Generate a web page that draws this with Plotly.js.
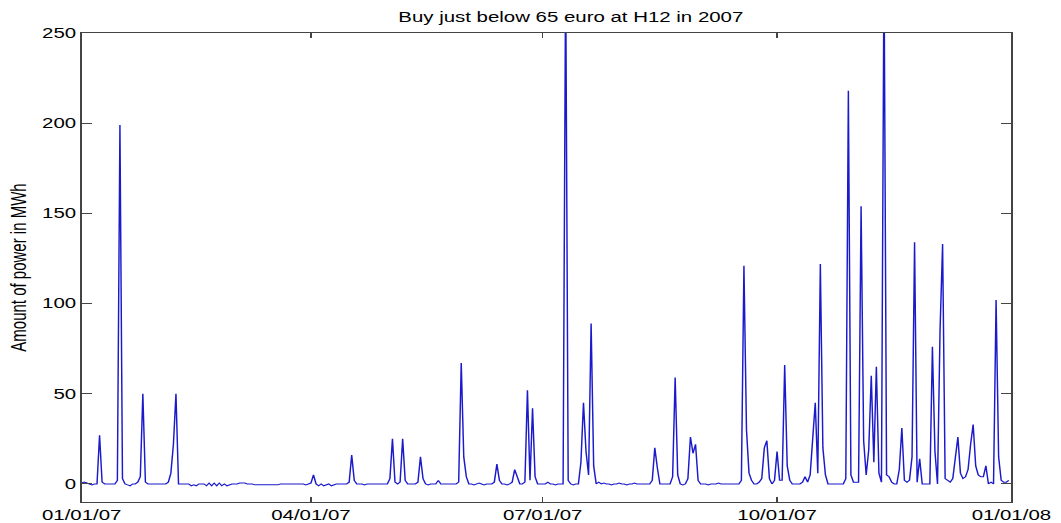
<!DOCTYPE html>
<html>
<head>
<meta charset="utf-8">
<script src="https://cdn.plot.ly/plotly-3.0.1.min.js"></script>
<style>
html,body{margin:0;padding:0;background:#fff;overflow:hidden;}
#wrap{width:1061px;height:523px;overflow:hidden;}
#chart{width:727px;height:523px;transform:scaleX(1.4594);transform-origin:0 0;}
</style>
</head>
<body>
<div id="wrap"><div id="chart"></div></div>
<script>
// Daily amount (MWh) bought just below 65 euro at hour 12, from 2007-01-01
const startDate = '2007-01-01';
const amounts = [
 0.5,1,0.5,0,-0.5,0,0,27,1,0, 0,0,0,0,2,199,3,0,-0.5,-1,
 0,0,1,4,50,1,0,0,0,0, 0,0,0,0,1,6,22,50,0,0,
 0,0,0,-1,-0.5,-1,0,0,0,-1, 0.5,-1,0.5,-1,0.5,-1,0,-1,-0.5,0,
 0,0,0.5,0.5,0.5,0,0,0,-0.5,-0.5, -0.5,-0.5,-0.5,-0.5,-0.5,-0.5,-0.5,-0.5,0,0,
 0,0,0,0,0,0,0,0,-0.5,0, 0.5,5,0,-1,0,-1,-0.5,0,-1,-0.5,
 0,0,0,0,0,1,16,2,0,0, 0,-0.5,0,0,0,0,0,0,0,0,
 0,3,25,1,0,1,25,2,0,0, 0,0,1,15,3,0,-0.5,0,0,0,
 2,0,0,0,0,0,0,0,1,67, 15,4,0,0,-0.5,0,0.5,0,-0.5,0,
 0,0,1,11,2,0,0,-0.5,0,1, 8,3,0,0,1,52,2,42,4,0,
 0,0,0,1,0,0,-0.5,0,0,0, 285,2,0,-0.5,0,0,12,45,18,5,
 89,10,0,1,0,0.5,0,0,-0.5,0, 0,0.5,0,0,-0.5,0,0,0.5,0,0,
 0,0,0,0,2,20,9,0,0,0, 0,0,4,59,5,0,-0.5,0,3,26,
 17,22,2,0,0,0,-0.5,0,0,0, 0.5,0,0,0,0,0,0,0,0,2,
 121,30,6,2,0,0,1,3,20,24, 3,0,2,18,2,2,66,10,2,0,
 0,0,0,1,4,1,5,25,45,6, 122,20,5,0,0,0,0,0,0,0,
 3,218,5,1,1,1,154,24,5,19, 60,12,65,6,1,290,5,4,1,0,
 0,8,31,2,1,2,15,134,1,14, 0,0,0,0,76,18,0,85,133,3,
 2,1,3,15,26,6,3,4,8,22, 33,10,5,4,4,10,0,1,0,102,
 15,2,1,1,2
];
const tickDates = ['2007-01-01','2007-04-01','2007-07-01','2007-10-01','2008-01-01'];
const tickLabels = ['01/01/07','04/01/07','07/01/07','10/01/07','01/01/08'];
const yTicks = [0,50,100,150,200,250];

const dates = amounts.map((_, i) => {
  const d = new Date(startDate + 'T00:00:00Z');
  d.setUTCDate(d.getUTCDate() + i);
  return d.toISOString().slice(0,10);
});

const font = {family:'Liberation Sans, Arial, Helvetica, sans-serif', size:14, color:'#000'};

const trace = {
  x: dates, y: amounts, type:'scatter', mode:'lines',
  line:{color:'#1a1acc', width:1}, hoverinfo:'skip'
};

const axisCommon = {
  showgrid:false, zeroline:false, showline:true, linecolor:'#444', linewidth:1,
  mirror:'ticks', ticks:'inside', tickcolor:'#444', tickwidth:1, tickfont:font
};

const layout = {
  width:727, height:523,
  margin:{l:55.5, r:33.5, t:33, b:21, pad:0},
  paper_bgcolor:'#fff', plot_bgcolor:'#fff',
  showlegend:false,
  font: font,
  title:{text:'Buy just below 65 euro at H12 in 2007', font:font,
         xref:'container', x:0.538, xanchor:'center', yref:'container', y:0.967, yanchor:'middle'},
  xaxis:Object.assign({}, axisCommon, {
    type:'date', range:['2007-01-01','2008-01-01'],
    tickmode:'array', tickvals:tickDates, ticktext:tickLabels, ticklen:5
  }),
  yaxis:Object.assign({}, axisCommon, {
    range:[-10,250], tickmode:'array', tickvals:yTicks, ticklen:7,
    title:{text:'Amount of power in MWh', font:{family:font.family, size:15, color:'#000'}, standoff:6}
  })
};

Plotly.newPlot('chart', [trace], layout, {displayModeBar:false, staticPlot:true});
</script>
</body>
</html>
